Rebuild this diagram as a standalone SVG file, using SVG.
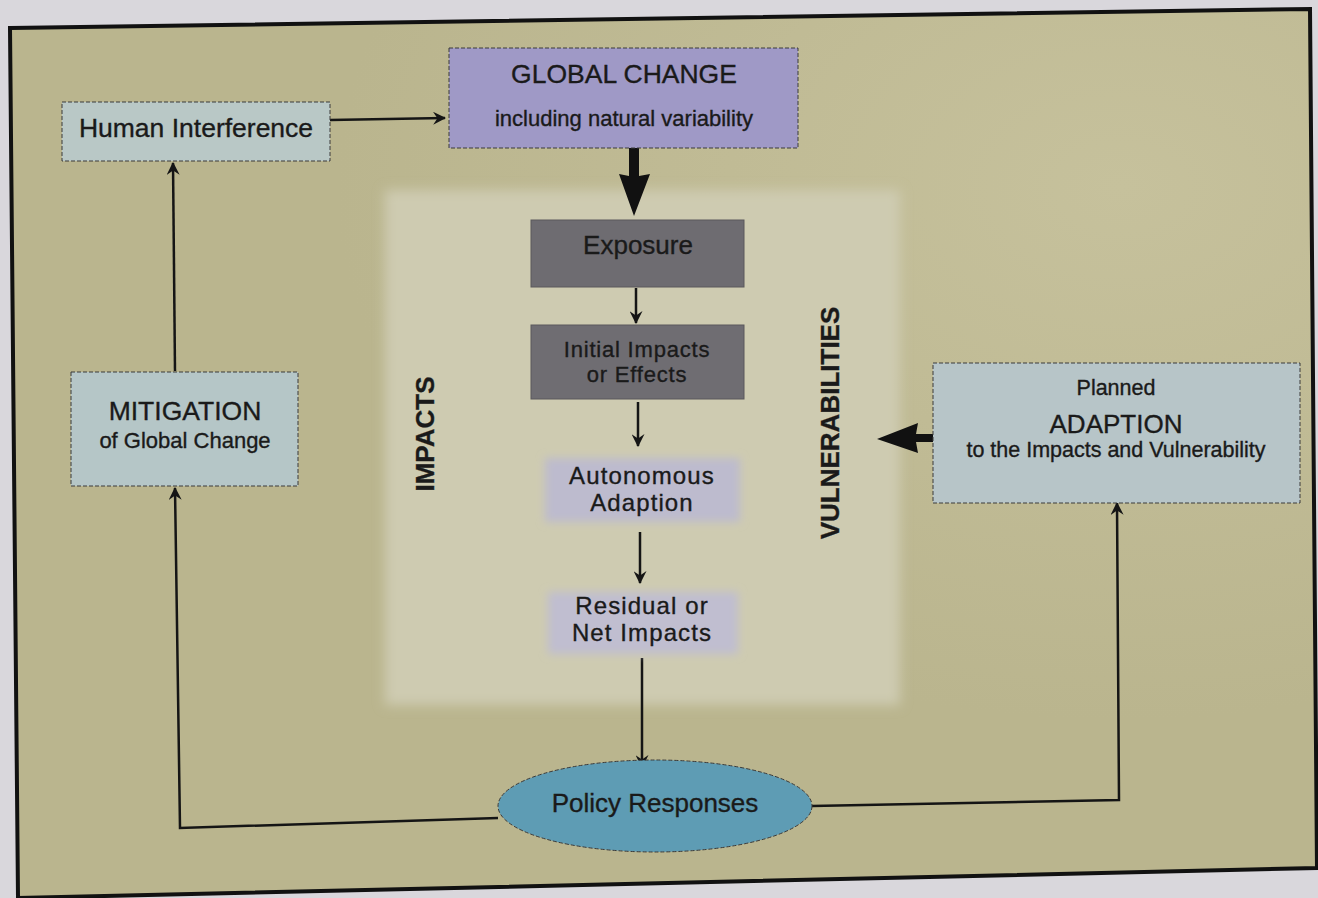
<svg xmlns="http://www.w3.org/2000/svg" width="1318" height="898" viewBox="0 0 1318 898">
  <defs>
    <marker id="arrow" viewBox="0 0 12 12" refX="11" refY="6" markerWidth="13" markerHeight="13" markerUnits="userSpaceOnUse" orient="auto">
      <path d="M0,0 L12,6 L0,12 L4,6 Z" fill="#151515"/>
    </marker>
    <filter id="soft" x="-20%" y="-20%" width="140%" height="140%">
      <feGaussianBlur stdDeviation="4"/>
    </filter>
    <filter id="haze" x="-5%" y="-5%" width="110%" height="110%">
      <feGaussianBlur stdDeviation="6"/>
    </filter>
    <radialGradient id="glow" cx="0.85" cy="0.2" r="0.6">
      <stop offset="0" stop-color="#c6c19c"/>
      <stop offset="1" stop-color="#bab58e"/>
    </radialGradient>
  </defs>
  <style>
    .t { font-family: "Liberation Sans", Arial, sans-serif; fill: #1a1a1a; stroke: #1a1a1a; stroke-width: 0.35; text-anchor: middle; }
    .pair { font-size: 24px; letter-spacing: 1.1px; }
    .box { stroke: #3a3a3a; stroke-width: 1; stroke-dasharray: 4 2; }
    .line { fill: none; stroke: #151515; stroke-width: 2.5; }
    .heavy { fill: #111; }
  </style>

  <!-- page -->
  <rect x="0" y="0" width="1318" height="898" fill="#d9d7dc"/>
  <polygon points="10,28 1310,9 1317,868 18,898" fill="url(#glow)" stroke="#111" stroke-width="4"/>

  <!-- light central panel -->
  <rect x="385" y="190" width="515" height="515" fill="#cecbb1" filter="url(#haze)"/>

  <g id="connectors">
    <line class="line" x1="330" y1="120" x2="445" y2="118" marker-end="url(#arrow)"/>
    <polygon class="heavy" points="629,148 639,148 639,176 650,174 634,216 619,174 629,176"/>
    <line class="line" x1="636" y1="288" x2="636" y2="323" marker-end="url(#arrow)"/>
    <line class="line" x1="638" y1="402" x2="638" y2="446" marker-end="url(#arrow)"/>
    <line class="line" x1="640" y1="532" x2="640" y2="583" marker-end="url(#arrow)"/>
    <line class="line" x1="642" y1="658" x2="642" y2="767" marker-end="url(#arrow)"/>
    <polyline class="line" points="498,818 180,828 175,488" marker-end="url(#arrow)"/>
    <line class="line" x1="175" y1="371" x2="173" y2="163" marker-end="url(#arrow)"/>
    <polyline class="line" points="812,806 1119,800 1117,503" marker-end="url(#arrow)"/>
    <polygon class="heavy" points="934,434 934,442 916,442 918,453 877,439 918,423 916,434"/>
  </g>

  <g id="human-interference">
    <rect class="box" x="62" y="102" width="268" height="59" fill="#b9c8c6"/>
    <text class="t" x="196" y="137" font-size="26.5">Human Interference</text>
  </g>

  <g id="global-change">
    <rect class="box" x="449" y="48" width="349" height="100" fill="#9f99c6"/>
    <text class="t" x="624" y="83" font-size="26.5">GLOBAL CHANGE</text>
    <text class="t" x="624" y="126" font-size="22">including natural variability</text>
  </g>

  <g id="exposure">
    <rect x="531" y="220" width="213" height="67" fill="#6e6c71" stroke="#5a595c" stroke-width="1"/>
    <text class="t" x="638" y="254" font-size="26">Exposure</text>
  </g>

  <g id="initial-impacts">
    <rect x="531" y="325" width="213" height="74" fill="#6f6d72" stroke="#5a595c" stroke-width="1"/>
    <text class="t" x="637" y="357" font-size="22" letter-spacing="0.8">Initial Impacts</text>
    <text class="t" x="637" y="382" font-size="22" letter-spacing="0.8">or Effects</text>
  </g>

  <g id="autonomous-adaption">
    <rect x="545" y="458" width="195" height="64" fill="#bdbbce" filter="url(#soft)"/>
    <text class="t pair" x="642" y="484">Autonomous</text>
    <text class="t pair" x="642" y="511">Adaption</text>
  </g>

  <g id="residual-impacts">
    <rect x="548" y="592" width="190" height="62" fill="#c0bed0" filter="url(#soft)"/>
    <text class="t pair" x="642" y="614">Residual or</text>
    <text class="t pair" x="642" y="641">Net Impacts</text>
  </g>

  <g id="mitigation">
    <rect class="box" x="71" y="372" width="227" height="114" fill="#b5c6c7"/>
    <text class="t" x="185" y="420" font-size="26.5">MITIGATION</text>
    <text class="t" x="185" y="448" font-size="22">of Global Change</text>
  </g>

  <g id="adaption">
    <rect class="box" x="933" y="363" width="367" height="140" fill="#b7c5c8"/>
    <text class="t" x="1116" y="395" font-size="21.5">Planned</text>
    <text class="t" x="1116" y="433" font-size="26">ADAPTION</text>
    <text class="t" x="1116" y="457" font-size="21.5">to the Impacts and Vulnerability</text>
  </g>

  <g id="policy-responses">
    <ellipse class="box" cx="655" cy="806" rx="157" ry="46" fill="#5e9cb4"/>
    <text class="t" x="655" y="812" font-size="26">Policy Responses</text>
  </g>

  <g id="impacts-label">
    <text class="t" x="0" y="0" font-size="26" font-weight="bold" transform="translate(434,434) rotate(-90)">IMPACTS</text>
  </g>

  <g id="vulnerabilities-label">
    <text class="t" x="0" y="0" font-size="26" font-weight="bold" transform="translate(839,423) rotate(-90)">VULNERABILITIES</text>
  </g>
</svg>
